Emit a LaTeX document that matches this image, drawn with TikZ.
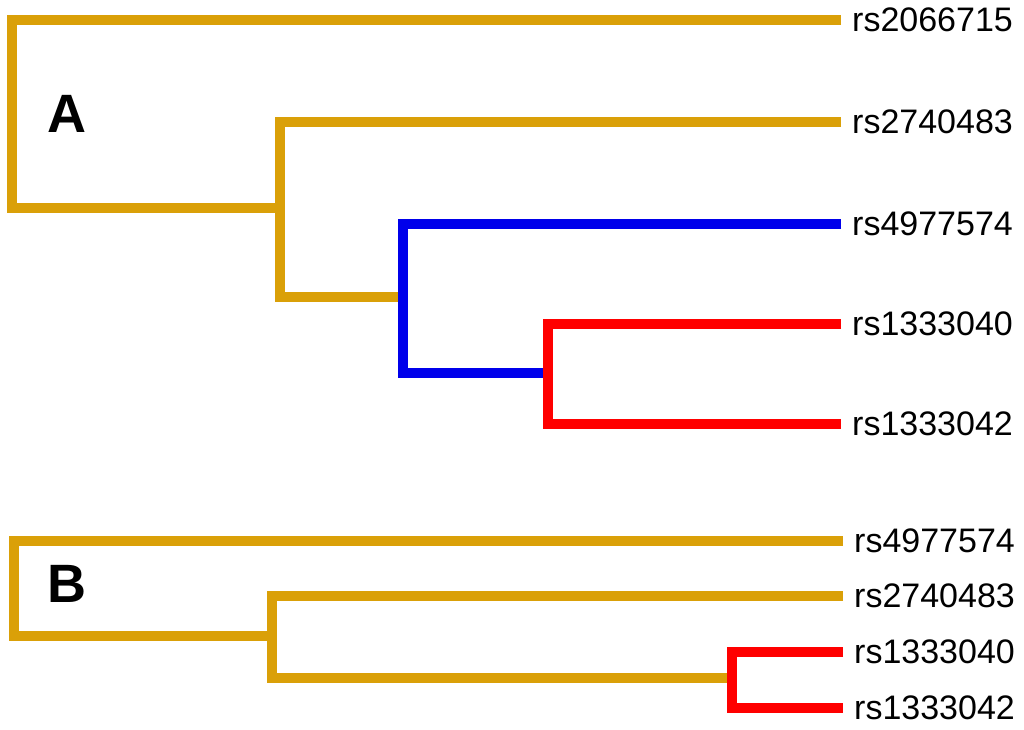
\documentclass[tikz,border=0pt]{standalone}
\usepackage{fontspec}
\setmainfont{Liberation Sans}
\definecolor{treegold}{RGB}{218,160,8}
\definecolor{treeblue}{RGB}{0,0,235}
\definecolor{treered}{RGB}{255,0,0}
\begin{document}
\begin{tikzpicture}[x=1pt,y=-1pt,
  branch/.style={line width=10pt,line join=miter,line cap=butt},
  leaf/.style={anchor=west,inner xsep=11pt,inner ysep=0pt,font=\fontsize{34}{40}\selectfont},
  panel/.style={font=\bfseries\fontsize{54}{60}\selectfont,inner sep=0pt}]
\useasboundingbox (0,0) rectangle (1024,729);
% ---- panel A ----
\node[leaf] (a1) at (841,20) {rs2066715};
\node[leaf] (a2) at (841,122) {rs2740483};
\node[leaf] (a3) at (841,224) {rs4977574};
\node[leaf] (a4) at (841,324) {rs1333040};
\node[leaf] (a5) at (841,424) {rs1333042};
\coordinate (ra) at (12,208);
\coordinate (n2345) at (280,297);
\coordinate (n345) at (403,373);
\coordinate (n45) at (548,373);
\draw[branch,treegold] (a1.west) -| (ra) -- (280,208);
\draw[branch,treegold] (a2.west) -| (n2345) -- (403,297);
\draw[branch,treeblue] (a3.west) -| (n345) -- (n45);
\draw[branch,treered] (a4.west) -| (n45) |- (a5.west);
\node[panel] (A) at (67,114) {A};
% ---- panel B ----
\node[leaf] (b1) at (843,541) {rs4977574};
\node[leaf] (b2) at (843,596) {rs2740483};
\node[leaf] (b3) at (843,652) {rs1333040};
\node[leaf] (b4) at (843,708) {rs1333042};
\coordinate (rb) at (14,636);
\coordinate (m234) at (272,678);
\coordinate (m34) at (732,678);
\draw[branch,treegold] (b1.west) -| (rb) -- (272,636);
\draw[branch,treegold] (b2.west) -| (m234) -- (m34);
\draw[branch,treered] (b3.west) -| (m34) |- (b4.west);
\node[panel] (B) at (67,584) {B};
\end{tikzpicture}
\end{document}
